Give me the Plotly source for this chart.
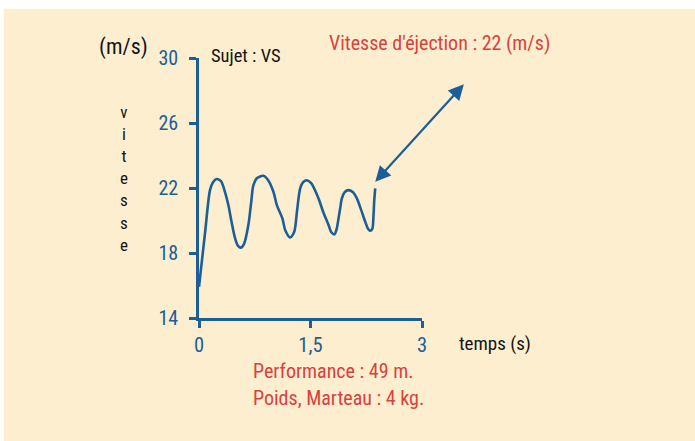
import plotly.graph_objects as go

# ---- data ----
time_s = [0, 0.081, 0.148, 0.189, 0.238, 0.296, 0.350, 0.395, 0.438, 0.485,
          0.525, 0.566, 0.606, 0.664, 0.701, 0.732, 0.781, 0.866, 0.930, 1.001,
          1.047, 1.122, 1.159, 1.226, 1.280, 1.320, 1.361, 1.401, 1.451, 1.509,
          1.608, 1.671, 1.743, 1.778, 1.823, 1.852, 1.877, 1.900, 1.922, 1.960,
          2.011, 2.068, 2.124, 2.182, 2.236, 2.276, 2.304, 2.331, 2.348, 2.358,
          2.371]
speed_ms = [15.92, 19.23, 21.87, 22.36, 22.55, 22.42, 21.75, 20.95, 19.91, 18.91,
            18.44, 18.33, 18.56, 19.72, 21.07, 22.18, 22.61, 22.75, 22.48, 21.77,
            20.95, 20.13, 19.42, 18.96, 19.29, 20.64, 21.98, 22.36, 22.48, 22.30,
            21.36, 20.52, 19.72, 19.29, 19.15, 19.48, 20.13, 20.77, 21.36, 21.75,
            21.87, 21.75, 21.36, 20.64, 19.93, 19.48, 19.37, 19.48, 20.34, 21.26,
            21.98]
y_ticks = [14, 18, 22, 26, 30]
x_ticks = [0, 1.5, 3]
x_tick_labels = ["0", "1,5", "3"]
y_unit = "(m/s)"
x_title = "temps (s)"
y_title_letters = list("vitesse")
subject_text = "Sujet : VS"
ejection_text = "Vitesse d'éjection : 22 (m/s)"
perf_text = "Performance : 49 m."
weight_text = "Poids, Marteau : 4 kg."

# ---- styles ----
BLUE = "#1b5e98"
RED = "#d8423d"
BLACK = "#141414"
CREAM = "#fdeecf"
FONT = "Roboto Condensed, Liberation Sans Narrow, Arial Narrow, sans-serif"

W, H = 695, 441
L, R, T, B = 199, 421.7, 57.5, 318.3


def pxx(xp):
    return (xp - L) / (R - L)


def pxy(yp):
    return (B - yp) / (B - T)


fig = go.Figure()
fig.add_trace(go.Scatter(
    x=time_s, y=speed_ms, mode="lines",
    line=dict(color=BLUE, width=2.6, shape="spline", smoothing=0.8),
    hoverinfo="skip",
))

fig.update_layout(
    width=W, height=H, autosize=False,
    margin=dict(l=L, r=W - R, t=T, b=H - B, pad=0),
    paper_bgcolor="white",
    plot_bgcolor="rgba(0,0,0,0)",
    showlegend=False,
    font=dict(family=FONT),
)

fig.update_xaxes(
    range=[0, 3], tickvals=x_ticks, ticktext=x_tick_labels,
    showline=True, linecolor=BLUE, linewidth=2.5,
    ticks="outside", ticklen=7, tickwidth=2.5, tickcolor=BLUE,
    showgrid=False, zeroline=False,
    tickfont=dict(family=FONT, size=20.5, color=BLUE),
    ticklabelstandoff=0,
)
fig.update_yaxes(
    range=[14, 30], tickvals=y_ticks,
    showline=True, linecolor=BLUE, linewidth=2.5,
    ticks="outside", ticklen=7, tickwidth=2.5, tickcolor=BLUE,
    showgrid=False, zeroline=False,
    tickfont=dict(family=FONT, size=20, color=BLUE),
    ticklabelstandoff=7,
)

# cream background panel
fig.add_shape(type="rect", xref="paper", yref="paper",
              x0=pxx(4), x1=pxx(W + 5), y0=pxy(H + 5), y1=pxy(8),
              fillcolor=CREAM, line=dict(width=0), layer="below")

annos = []


def text(t, xp, yp, size, color, xanchor="left", **kw):
    annos.append(dict(text=t, xref="paper", yref="paper", x=pxx(xp), y=pxy(yp),
                      xanchor=xanchor, yanchor="middle", showarrow=False,
                      font=dict(family=FONT, size=size, color=color), **kw))


text(y_unit, 97, 46, 22, BLACK)
text(subject_text, 209, 55, 18.5, BLACK)
text(ejection_text, 327, 42.5, 20, RED)
text(x_title, 457, 344, 19, BLACK)
text(perf_text, 251, 371, 20, RED)
text(weight_text, 251, 399, 20, RED)

# vertical axis word, one letter per line (single text block)
text("<br>".join(y_title_letters), 124, 178, 17, BLACK, xanchor="center")

# double-headed arrow pointing at the ejection point
annos.append(dict(
    x=time_s[-1], y=speed_ms[-1], xref="x", yref="y",
    ax=90, ay=-99, axref="pixel", ayref="pixel",
    text="", showarrow=True, yshift=6.5,
    arrowside="end+start", arrowhead=2, startarrowhead=2,
    arrowsize=1.4, startarrowsize=1.4, arrowwidth=2.2, arrowcolor=BLUE,
))

fig.update_layout(annotations=annos)

fig.write_html("out.html", config={"displayModeBar": False},
               post_script="document.body.style.margin='0';")
